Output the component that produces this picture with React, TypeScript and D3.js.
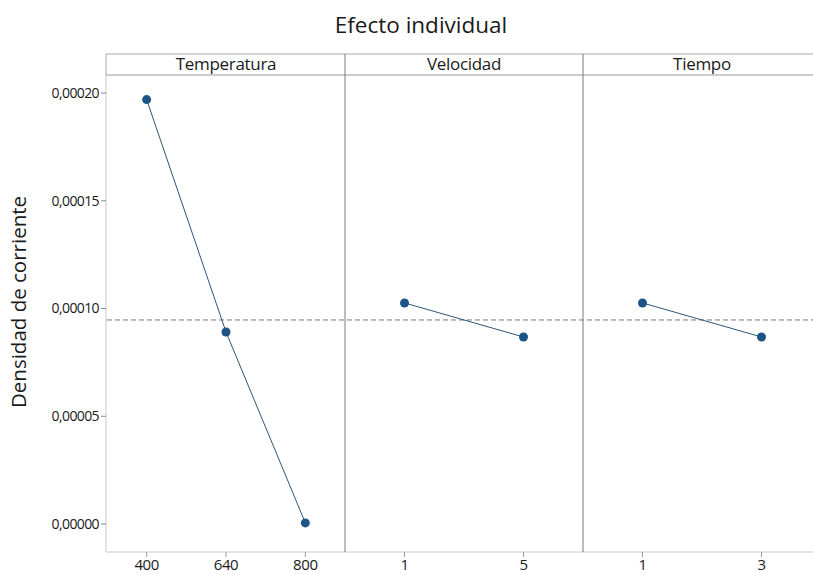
import React from "react";
import * as d3 from "d3";

const factors = ["Temperatura", "Velocidad", "Tiempo"];
const tempLevels = ["400", "640", "800"];
const tempMeans = [0.000197, 0.0000891, 0.0000005];
const velLevels = ["1", "5"];
const velMeans = [0.0001026, 0.0000868];
const timeLevels = ["1", "3"];
const timeMeans = [0.0001026, 0.0000868];
const grandMean = 0.0000947;
const yTicks = [0, 0.00005, 0.0001, 0.00015, 0.0002];

const W = 813;
const H = 575;
const left = 107;
const panelW = 238;
const headerTop = 54;
const plotTop = 75;
const plotBottom = 552;
const font = "'Open Sans', 'Noto Sans', sans-serif";

const locale = d3.formatLocale({ decimal: ",", thousands: ".", grouping: [3], currency: ["", ""] });
const fmt = locale.format(".5f");

export default function App() {
  const y = d3.scaleLinear().domain([-0.000013, 0.0002084]).range([plotBottom, plotTop]);
  const panels = [
    { name: factors[0], levels: tempLevels, means: tempMeans },
    { name: factors[1], levels: velLevels, means: velMeans },
    { name: factors[2], levels: timeLevels, means: timeMeans },
  ];
  const totalRight = left + panelW * panels.length;
  return (
    <svg width={W} height={H} style={{ position: "absolute", left: 0, top: 0, background: "#fff" }}>
      <rect x={0} y={0} width={W} height={H} fill="#fff" />
      <text x={421} y={33} textAnchor="middle" fontFamily={font} fontSize={22.5} fill="#1a1a1a">
        Efecto individual
      </text>
      <text
        transform={`translate(26,${302}) rotate(-90)`}
        textAnchor="middle"
        fontFamily={font}
        fontSize={20.5}
        fill="#1a1a1a"
      >
        Densidad de corriente
      </text>
      {/* y axis */}
      <line x1={left - 1} x2={left - 1} y1={plotTop} y2={plotBottom} stroke="#c8c8c8" />
      <line x1={left - 1} x2={totalRight} y1={plotBottom} y2={plotBottom} stroke="#c8c8c8" />
      {yTicks.map((t) => (
        <g key={t}>
          <line x1={left - 6} x2={left - 1} y1={y(t)} y2={y(t)} stroke="#888" />
          <text
            x={left - 8}
            y={y(t)}
            dy="0.35em"
            textAnchor="end"
            fontFamily={font}
            fontSize={14}
            letterSpacing={-0.6}
            fill="#1a1a1a"
          >
            {fmt(t)}
          </text>
        </g>
      ))}
      {/* header */}
      <line x1={left - 1} x2={totalRight} y1={headerTop} y2={headerTop} stroke="#aaa" />
      <line x1={left - 1} x2={totalRight} y1={plotTop} y2={plotTop} stroke="#999" />
      <line x1={left - 1} x2={left - 1} y1={headerTop} y2={plotTop} stroke="#aaa" />
      {/* grand mean */}
      <line
        x1={left}
        x2={totalRight}
        y1={y(grandMean)}
        y2={y(grandMean)}
        stroke="#777"
        strokeDasharray="5,3"
      />
      {panels.map((p, i) => {
        const x0 = left + panelW * i;
        const x = d3.scalePoint<string>().domain(p.levels).range([x0, x0 + panelW]).padding(0.5);
        const pts = p.levels.map((l, j) => [x(l) as number, y(p.means[j])] as [number, number]);
        const line = d3.line()(pts) || "";
        return (
          <g key={p.name}>
            {i > 0 && (
              <line x1={x0} x2={x0} y1={headerTop} y2={plotBottom} stroke="#7a7a7a" />
            )}
            <text
              x={x0 + panelW / 2}
              y={70}
              textAnchor="middle"
              fontFamily={font}
              fontSize={17}
              letterSpacing={-0.3}
              fill="#1a1a1a"
            >
              {p.name}
            </text>
            <path d={line} fill="none" stroke="#2f5478" strokeWidth={1} />
            {pts.map(([px, py], j) => (
              <circle key={j} cx={px} cy={py} r={4.5} fill="#1d5486" />
            ))}
            {p.levels.map((l) => (
              <g key={l}>
                <line x1={x(l)} x2={x(l)} y1={plotBottom} y2={plotBottom + 5} stroke="#999" />
                <text
                  x={x(l)}
                  y={plotBottom + 18}
                  textAnchor="middle"
                  fontFamily={font}
                  fontSize={15}
                  letterSpacing={-0.4}
                  fill="#1a1a1a"
                >
                  {l}
                </text>
              </g>
            ))}
          </g>
        );
      })}
    </svg>
  );
}
